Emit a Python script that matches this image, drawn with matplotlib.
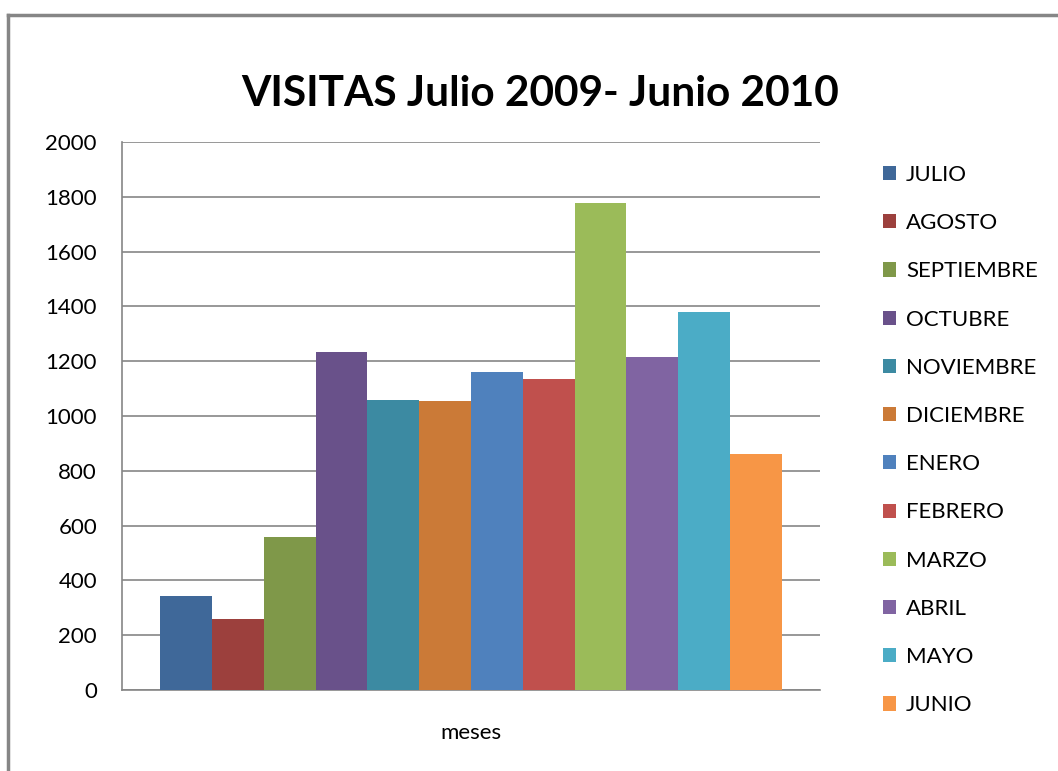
import numpy as np
import matplotlib
matplotlib.use("Agg")
import matplotlib.pyplot as plt
from matplotlib.lines import Line2D

# datos
meses = ["JULIO", "AGOSTO", "SEPTIEMBRE", "OCTUBRE", "NOVIEMBRE", "DICIEMBRE",
         "ENERO", "FEBRERO", "MARZO", "ABRIL", "MAYO", "JUNIO"]
visitas = [343, 259, 558, 1234, 1058, 1055, 1161, 1135, 1777, 1215, 1380, 861]
colores = ["#3F6899", "#9C403D", "#7F9849", "#69518A", "#3C8AA2", "#CB7A37",
           "#4F81BD", "#C0504D", "#9BBB59", "#8064A2", "#4BACC6", "#F79646"]
categoria = "meses"
titulo = "VISITAS Julio 2009- Junio 2010"

plt.rcParams['font.family'] = ['Lato', 'DejaVu Sans']

fig = plt.figure(figsize=(10.58, 7.71), dpi=100)
ax = fig.add_axes([122/1058, 1-690/771, 698/1058, 548/771])

n = len(meses)
ancho = 0.89 / n
x0 = -0.445 + ancho / 2
for i in range(n):
    ax.bar(x0 + i * ancho, visitas[i], width=ancho, color=colores[i],
           label=meses[i], zorder=3)

ax.set_xlim(-0.5, 0.5)
ax.set_ylim(0, 2000)
ax.set_yticks(np.arange(0, 2001, 200))
ax.set_xticks([0])
ax.set_xticklabels([categoria])
ax.tick_params(axis='both', length=0, labelsize=16, colors='black')
ax.tick_params(axis='y', pad=18)
ax.tick_params(axis='x', pad=24)
ax.grid(axis='y', color='#868686', linewidth=1.2, zorder=0)
for s in ['top', 'right']:
    ax.spines[s].set_visible(False)
for s in ['left', 'bottom']:
    ax.spines[s].set_color('#868686')
    ax.spines[s].set_linewidth(1.2)

fig.text(540/1058, 1-94/771, titulo, ha='center', va='center',
         fontsize=30.5, fontweight='bold')

leg = ax.legend(loc='upper left', bbox_to_anchor=(874/1058, 1-156/771),
                bbox_transform=fig.transFigure, frameon=False,
                fontsize=16, handlelength=0.6, handleheight=0.6,
                handletextpad=0.45, labelspacing=1.27, borderaxespad=0)

# marco exterior
fig.add_artist(Line2D([8/1058, 8/1058], [0, 1-15/771], color='#868686',
                      linewidth=2.5, transform=fig.transFigure))
fig.add_artist(Line2D([8/1058, 1], [1-15/771, 1-15/771], color='#868686',
                      linewidth=2.5, transform=fig.transFigure))

fig.savefig("out.png", dpi=100)
